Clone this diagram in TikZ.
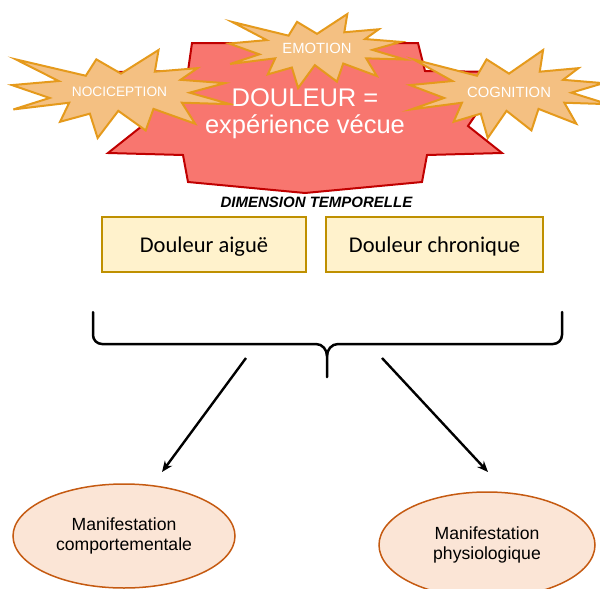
\documentclass[tikz,border=0pt]{standalone}
\usepackage{fontspec}
\setmainfont{Liberation Sans}
\newfontfamily\calib{Carlito}
\usetikzlibrary{arrows.meta,shapes.geometric}

\definecolor{painfill}{HTML}{F8766F}
\definecolor{painedge}{HTML}{C00000}
\definecolor{burstfill}{HTML}{F4C082}
\definecolor{burstedge}{HTML}{E59A1C}
\definecolor{boxfill}{HTML}{FFF2CC}
\definecolor{boxedge}{HTML}{BF9000}
\definecolor{ovalfill}{HTML}{FBE5D6}
\definecolor{ovaledge}{HTML}{C55A11}

\tikzset{
  % twelve-pointed explosion outline on a 100 x 100 grid
  burst/.pic={
    \draw[fill=burstfill, draw=burstedge, line width=2pt]
      (50,26.85) -- (67.23,0) -- (65.53,24.65) -- (85.09,20.63) -- (77.32,33.87)
      -- (97.67,37.67) -- (81.51,48.50) -- (100,61.53) -- (77.95,59.92)
      -- (84.00,83.77) -- (64.91,66.93) -- (61.33,91.38) -- (48.76,69.14)
      -- (39.28,100) -- (35.72,72.35) -- (22.05,81.56) -- (26.24,59.92)
      -- (0.63,67.53) -- (17.23,54.51) -- (0,39.88) -- (21.42,35.26)
      -- (1.71,10.63) -- (33.85,29.26) -- (38.67,10.63) -- cycle;
  },
  bursttext/.style={text=white, inner sep=0pt},
  durationbox/.style={draw=boxedge, fill=boxfill, line width=2.2pt,
    minimum height=55pt, inner sep=0pt, text depth=0pt,
    font=\calib\fontsize{22.5}{26}\selectfont},
  oval/.style={ellipse, draw=ovaledge, fill=ovalfill, line width=1.5pt,
    align=center, inner sep=2pt, font=\fontsize{17.6}{20.8}\selectfont},
  arr/.style={-{Stealth[length=11pt,width=9pt]}, line width=2.4pt},
  bracestroke/.style={line width=2.5pt, line cap=round},
}

\begin{document}
\begin{tikzpicture}[x=1pt, y=-1pt]
\useasboundingbox (0,0) rectangle (600,589);
\clip (0,0) rectangle (600,589);

% central pain explosion
\draw[fill=painfill, draw=painedge, line width=2pt]
  (192,43) -- (418,43) -- (425,71) -- (505,72) -- (468,126) -- (502,153)
  -- (427,155) -- (422,182) -- (305,193) -- (188,182) -- (183,155)
  -- (108,153) -- (142,126) -- (105,72) -- (188,71) -- cycle;

% the three component bursts
\begin{scope}[shift={(12,50)}, xscale=2.18, yscale=0.88]
  \pic[transform shape] {burst};
\end{scope}
\begin{scope}[shift={(229,14)}, xscale=1.76, yscale=0.74]
  \pic[transform shape] {burst};
\end{scope}
\begin{scope}[shift={(410,50)}, xscale=1.98, yscale=0.88]
  \pic[transform shape] {burst};
\end{scope}

\node[bursttext, font=\fontsize{13.7}{16}\selectfont] (noci) at (119.5,91.5) {NOCICEPTION};
\node[bursttext, font=\fontsize{14.8}{17}\selectfont] (emo) at (317,48.5) {EMOTION};
\node[bursttext, font=\fontsize{14.8}{17}\selectfont] (cogn) at (509,92) {COGNITION};

\node[text=white, align=center, inner sep=0pt, font=\fontsize{25.5}{27}\selectfont]
  (douleur) at (305,114) {DOULEUR =\\expérience vécue};

\node[inner sep=0pt, font=\bfseries\itshape\fontsize{15}{18}\selectfont]
  (temps) at (316.5,202.5) {DIMENSION TEMPORELLE};

% acute and chronic pain
\node[durationbox, minimum width=204pt] (aigue) at (204,244.5) {Douleur aiguë};
\node[durationbox, minimum width=217pt] (chron) at (434.5,244.5) {Douleur chronique};

% brace grouping both durations
\draw[bracestroke] (93,312) -- (93,335) to[out=-90,in=180] (102,344) -- (316,344)
  to[out=0,in=90] (327,356) -- (327,377);
\draw[bracestroke] (562,312) -- (562,335) to[out=-90,in=0] (553,344) -- (338,344)
  to[out=180,in=90] (327,356);

% manifestations
\node[oval, minimum width=222pt, minimum height=104pt] (comport) at (124,536)
  {Manifestation\\comportementale};
\node[oval, minimum width=216pt, minimum height=106pt] (physio) at (487,545)
  {Manifestation\\physiologique};

\coordinate (l0) at (246,358);
\coordinate (l1) at (162,472);
\coordinate (r0) at (382,358);
\coordinate (r1) at (488,472);
\draw[arr] (l0) -- (l1);
\draw[arr] (r0) -- (r1);
\end{tikzpicture}
\end{document}
